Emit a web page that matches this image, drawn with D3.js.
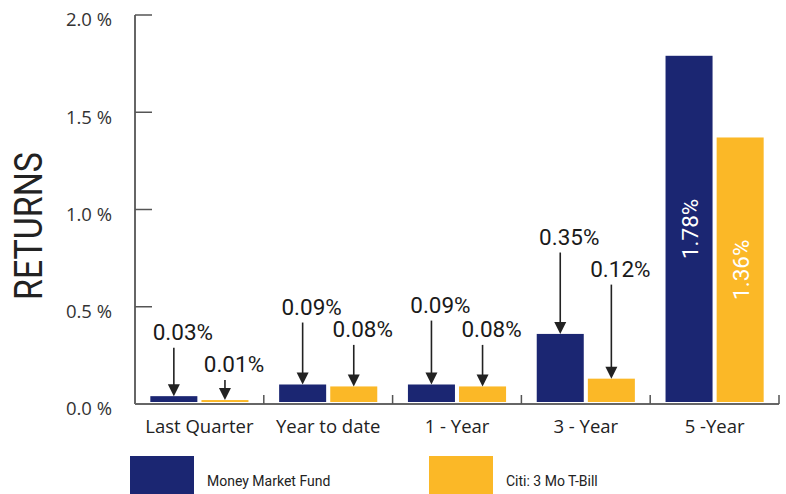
<!DOCTYPE html>
<html><head><meta charset="utf-8">
<script src="https://cdn.jsdelivr.net/npm/d3@7"></script>
<style>body{margin:0;background:#fff}svg{display:block}</style></head>
<body><svg id="c" width="786" height="494"></svg>
<script>
const categories = ["Last Quarter", "Year to date", "1 - Year", "3 - Year", "5 -Year"];
const seriesNames = ["Money Market Fund", "Citi: 3 Mo T-Bill"];
const moneyMarket = [0.03, 0.09, 0.09, 0.35, 1.78];
const tBill = [0.01, 0.08, 0.08, 0.12, 1.36];
const moneyMarketLabels = ["0.03%", "0.09%", "0.09%", "0.35%", "1.78%"];
const tBillLabels = ["0.01%", "0.08%", "0.08%", "0.12%", "1.36%"];
// annotation text anchor levels (in % units); null = label placed inside bar
const moneyMarketLabelAt = [0.33, 0.46, 0.47, 0.82, null];
const tBillLabelAt = [0.165, 0.345, 0.345, 0.655, null];
const yTicks = [0, 0.5, 1.0, 1.5, 2.0];
const yTickLabels = ["0.0 %", "0.5 %", "1.0 %", "1.5 %", "2.0 %"];

const colors = ["#1b2672", "#fbb827"];
const seriesValues = [moneyMarket, tBill];
const seriesLabels = [moneyMarketLabels, tBillLabels];
const seriesLabelAt = [moneyMarketLabelAt, tBillLabelAt];

const svg = d3.select("#c");
const x = d3.scaleBand().domain(categories).range([135, 779]).paddingInner(0).paddingOuter(0);
const xs = d3.scaleBand().domain(d3.range(seriesNames.length)).range([0, x.bandwidth()]).paddingInner(0.08).paddingOuter(0.3);
const y = d3.scaleLinear().domain([0, 2]).range([404, 15]);
const lift = 2;

const rows = [];
categories.forEach((c, i) => {
  seriesNames.forEach((s, j) => {
    rows.push({c, j, v: seriesValues[j][i], label: seriesLabels[j][i], at: seriesLabelAt[j][i]});
  });
});

// bars
svg.append("g").selectAll("rect").data(rows).join("rect")
  .attr("x", d => x(d.c) + xs(d.j))
  .attr("width", xs.bandwidth())
  .attr("y", d => y(d.v) - lift)
  .attr("height", d => y(0) - y(d.v))
  .attr("fill", d => colors[d.j]);

// y axis
const ya = svg.append("g");
ya.append("line").attr("x1", 135).attr("x2", 135).attr("y1", y(2)).attr("y2", y(0))
  .attr("stroke", "#333").attr("stroke-width", 1.5);
ya.selectAll("line.t").data(yTicks.filter(t => t > 0)).join("line").attr("class", "t")
  .attr("x1", 135).attr("x2", 152).attr("y1", d => y(d)).attr("y2", d => y(d))
  .attr("stroke", "#555").attr("stroke-width", 1.5);
ya.selectAll("text").data(yTicks).join("text")
  .attr("x", 112).attr("y", d => y(d) + 5).attr("dy", "0.35em")
  .attr("text-anchor", "end")
  .attr("font-family", "'Open Sans', sans-serif").attr("font-size", 18.5).attr("fill", "#333")
  .text((d, i) => yTickLabels[i]);

// x axis baseline
const xa = svg.append("g");
xa.append("line").attr("x1", 135).attr("x2", 779).attr("y1", y(0)).attr("y2", y(0))
  .attr("stroke", "#666").attr("stroke-width", 2);
xa.selectAll("line.t").data(categories).join("line").attr("class", "t")
  .attr("x1", d => x(d) + x.bandwidth()).attr("x2", d => x(d) + x.bandwidth())
  .attr("y1", y(0)).attr("y2", y(0) - 9)
  .attr("stroke", "#555").attr("stroke-width", 1.5);
xa.selectAll("text").data(categories).join("text")
  .attr("x", d => x(d) + x.bandwidth() / 2).attr("y", 433)
  .attr("text-anchor", "middle")
  .attr("font-family", "'Open Sans', sans-serif").attr("font-size", 18.5).attr("fill", "#222")
  .text(d => d);

// y title
svg.append("text")
  .attr("transform", "translate(42,226) rotate(-90)")
  .attr("text-anchor", "middle")
  .attr("font-family", "Roboto, sans-serif").attr("font-weight", 400).attr("font-size", 38)
  .attr("textLength", 148).attr("lengthAdjust", "spacingAndGlyphs")
  .attr("fill", "#222").text("RETURNS");

// annotations with arrows
const outside = rows.filter(d => d.at != null);
const ann = svg.append("g");
outside.forEach(d => {
  const cx = x(d.c) + xs(d.j) + xs.bandwidth() / 2;
  const ty = y(d.at);
  const tipY = y(d.v) - lift;
  ann.append("text").attr("x", cx + 9).attr("y", ty).attr("text-anchor", "middle")
    .attr("font-family", "Roboto, sans-serif").attr("font-size", 22.5).attr("fill", "#1a1a1a")
    .text(d.label);
  ann.append("line").attr("x1", cx).attr("x2", cx).attr("y1", ty + 8).attr("y2", tipY - 10)
    .attr("stroke", "#222").attr("stroke-width", 1.6);
  ann.append("path")
    .attr("d", `M${cx - 6},${tipY - 12}L${cx + 6},${tipY - 12}L${cx},${tipY}Z`)
    .attr("fill", "#222");
});

// inside labels
rows.filter(d => d.at == null).forEach(d => {
  const cx = x(d.c) + xs(d.j) + xs.bandwidth() / 2;
  const cy = (y(d.v) + y(0)) / 2 - lift;
  svg.append("text").attr("transform", `translate(${cx + 1},${cy}) rotate(-90)`)
    .attr("text-anchor", "middle").attr("dy", "0.35em")
    .attr("font-family", "Roboto, sans-serif").attr("font-size", 22.5).attr("fill", "#fff")
    .text(d.label);
});

// legend
const legX = [130, 429];
const lg = svg.append("g").selectAll("g").data(seriesNames).join("g");
lg.append("rect").attr("x", (d, i) => legX[i]).attr("y", 456).attr("width", 64).attr("height", 40)
  .attr("fill", (d, i) => colors[i]);
lg.append("text").attr("x", (d, i) => legX[i] + 77).attr("y", 486)
  .attr("font-family", "Roboto, sans-serif").attr("font-size", 14).attr("fill", "#222")
  .text(d => d);
</script></body></html>
